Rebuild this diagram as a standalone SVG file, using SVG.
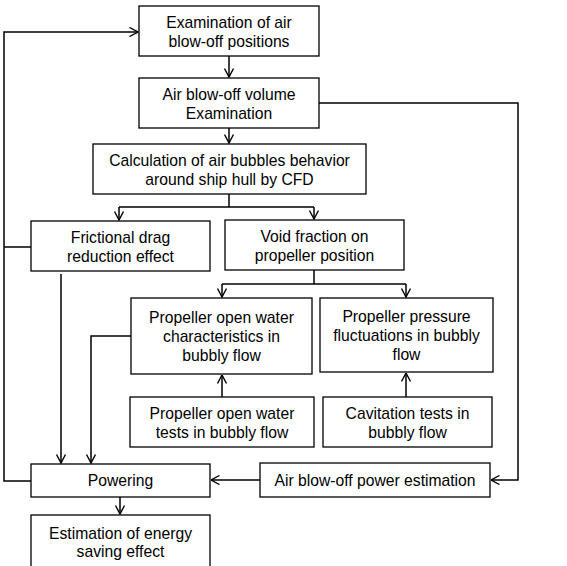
<svg xmlns="http://www.w3.org/2000/svg" width="567" height="566" viewBox="0 0 567 566">
<defs>
<style>
.box{fill:#fff;stroke:#000;stroke-width:1.3}
.ln{fill:none;stroke:#000;stroke-width:1.5}
text{font-family:"Liberation Sans",Arial,sans-serif;font-size:15.7px;fill:#000;text-anchor:middle}
</style>
<marker id="ah" viewBox="0 0 10 10" refX="9.5" refY="5" markerWidth="10" markerHeight="10" markerUnits="userSpaceOnUse" orient="auto">
<path d="M1,0.5 L9.5,5 L1,9.5" fill="none" stroke="#000" stroke-width="1.4"/>
</marker>
</defs>
<rect width="567" height="566" fill="#fff"/>
<g id="connectors">
<path class="ln" d="M31,481 H4 V32 H138" marker-end="url(#ah)"/>
<path class="ln" d="M31,247 H4"/>
<path class="ln" d="M229,56 V77" marker-end="url(#ah)"/>
<path class="ln" d="M229,128 V143" marker-end="url(#ah)"/>
<path class="ln" d="M229,194 V207"/>
<path class="ln" d="M119,207 H314"/>
<path class="ln" d="M119,207 V220" marker-end="url(#ah)"/>
<path class="ln" d="M314,207 V219" marker-end="url(#ah)"/>
<path class="ln" d="M319,103 H518 V480 H491" marker-end="url(#ah)"/>
<path class="ln" d="M314,270 V284"/>
<path class="ln" d="M222,284 H406"/>
<path class="ln" d="M222,284 V297" marker-end="url(#ah)"/>
<path class="ln" d="M406,284 V297" marker-end="url(#ah)"/>
<path class="ln" d="M222,397 V375" marker-end="url(#ah)"/>
<path class="ln" d="M406,397 V373" marker-end="url(#ah)"/>
<path class="ln" d="M61,274 V463" marker-end="url(#ah)"/>
<path class="ln" d="M131,336 H91 V463" marker-end="url(#ah)"/>
<path class="ln" d="M260,480 H211" marker-end="url(#ah)"/>
<path class="ln" d="M120,497 V514" marker-end="url(#ah)"/>
</g>
<g id="n1"><rect class="box" x="139" y="6" width="180" height="50"/><text x="229" y="28">Examination of air</text><text x="229" y="47">blow-off positions</text></g>
<g id="n2"><rect class="box" x="139" y="78" width="180" height="50"/><text x="229" y="100">Air blow-off volume</text><text x="229" y="119">Examination</text></g>
<g id="n3"><rect class="box" x="93" y="144" width="273" height="50"/><text x="229.5" y="166">Calculation of air bubbles behavior</text><text x="229.5" y="185">around ship hull by CFD</text></g>
<g id="n4"><rect class="box" x="31" y="221" width="179" height="50"/><text x="120.5" y="243">Frictional drag</text><text x="120.5" y="262">reduction effect</text></g>
<g id="n5"><rect class="box" x="225" y="220" width="179" height="50"/><text x="314.5" y="242">Void fraction on</text><text x="314.5" y="261">propeller position</text></g>
<g id="n6"><rect class="box" x="131" y="298" width="181" height="76"/><text x="221.5" y="323">Propeller open water</text><text x="221.5" y="342">characteristics in</text><text x="221.5" y="361">bubbly flow</text></g>
<g id="n7"><rect class="box" x="320" y="298" width="173" height="74"/><text x="406.5" y="322">Propeller pressure</text><text x="406.5" y="341">fluctuations in bubbly</text><text x="406.5" y="360">flow</text></g>
<g id="n8"><rect class="box" x="130" y="397" width="184" height="50"/><text x="222" y="419">Propeller open water</text><text x="222" y="438">tests in bubbly flow</text></g>
<g id="n9"><rect class="box" x="323" y="397" width="169" height="50"/><text x="407.5" y="419">Cavitation tests in</text><text x="407.5" y="438">bubbly flow</text></g>
<g id="n10"><rect class="box" x="31" y="464" width="179" height="33"/><text x="120.5" y="486">Powering</text></g>
<g id="n11"><rect class="box" x="260" y="463" width="230" height="34"/><text x="375" y="486">Air blow-off power estimation</text></g>
<g id="n12"><rect class="box" x="31" y="515" width="179" height="60"/><text x="120.5" y="539">Estimation of energy</text><text x="120.5" y="557">saving effect</text></g>
</svg>
